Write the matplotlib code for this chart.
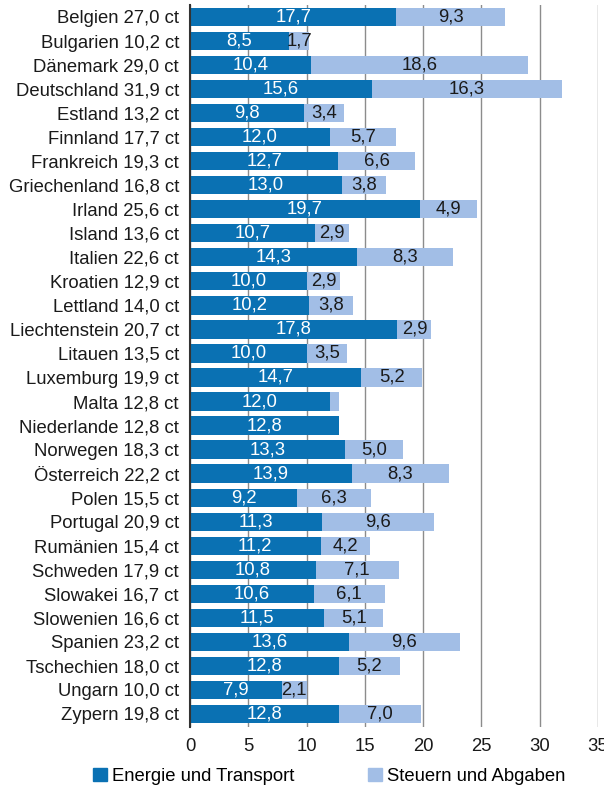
import matplotlib
matplotlib.use("Agg")
import matplotlib.pyplot as plt
from matplotlib.patches import Patch

plt.rcParams['font.family'] = ['Liberation Sans', 'DejaVu Sans']

laender = ["Belgien", "Bulgarien", "Dänemark", "Deutschland", "Estland", "Finnland",
           "Frankreich", "Griechenland", "Irland", "Island", "Italien", "Kroatien",
           "Lettland", "Liechtenstein", "Litauen", "Luxemburg", "Malta", "Niederlande",
           "Norwegen", "Österreich", "Polen", "Portugal", "Rumänien", "Schweden",
           "Slowakei", "Slowenien", "Spanien", "Tschechien", "Ungarn", "Zypern"]
energie = [17.7, 8.5, 10.4, 15.6, 9.8, 12.0, 12.7, 13.0, 19.7, 10.7, 14.3, 10.0,
           10.2, 17.8, 10.0, 14.7, 12.0, 12.8, 13.3, 13.9, 9.2, 11.3, 11.2, 10.8,
           10.6, 11.5, 13.6, 12.8, 7.9, 12.8]
steuern = [9.3, 1.7, 18.6, 16.3, 3.4, 5.7, 6.6, 3.8, 4.9, 2.9, 8.3, 2.9,
           3.8, 2.9, 3.5, 5.2, 0.8, 0.0, 5.0, 8.3, 6.3, 9.6, 4.2, 7.1,
           6.1, 5.1, 9.6, 5.2, 2.1, 7.0]
# Gesamtpreise wie in der Vorlage beschriftet
gesamt = [27.0, 10.2, 29.0, 31.9, 13.2, 17.7, 19.3, 16.8, 25.6, 13.6, 22.6, 12.9,
          14.0, 20.7, 13.5, 19.9, 12.8, 12.8, 18.3, 22.2, 15.5, 20.9, 15.4, 17.9,
          16.7, 16.6, 23.2, 18.0, 10.0, 19.8]
xticks = [0, 5, 10, 15, 20, 25, 30, 35]

dunkel = "#0a71b3"
hell = "#a2bee6"
fs = 13.3


def fmt(v):
    return f"{v:.1f}".replace(".", ",")


fig = plt.figure(figsize=(6.04, 7.88), dpi=100)
ax = fig.add_axes([0.3146, 0.0775, 0.6754, 0.9162])

y = list(range(len(laender)))
ax.barh(y, energie, height=0.76, color=dunkel, zorder=3)
ax.barh(y, steuern, left=energie, height=0.76, color=hell, zorder=3)

for i in y:
    e, s = energie[i], steuern[i]
    ax.text(e / 2, i, fmt(e), ha="center", va="center", color="white",
            fontsize=fs, zorder=4)
    if s >= 1:
        ax.text(e + s / 2, i, fmt(s), ha="center", va="center", color="#1a1a1a",
                fontsize=fs, zorder=4)

ax.set_yticks(y)
ax.set_yticklabels([f"{n} {fmt(t)} ct" for n, t in zip(laender, gesamt)],
                   fontsize=fs, color="#1a1a1a")
ax.set_ylim(len(laender) - 0.46, -0.5)
ax.set_xlim(0, 35)
ax.set_xticks(xticks)
ax.set_xticklabels([str(t) for t in xticks], fontsize=fs, color="#1a1a1a")
ax.tick_params(axis="both", length=0)
ax.tick_params(axis="y", pad=8)
ax.tick_params(axis="x", pad=8)

ax.grid(axis="x", color="#8c8c8c", linewidth=1.0, zorder=1)
for s in ["top", "right", "bottom"]:
    ax.spines[s].set_visible(False)
ax.spines["left"].set_color("#333333")
ax.spines["left"].set_linewidth(1.5)
ax.spines["left"].set_zorder(5)

handles = [Patch(color=dunkel, label="Energie und Transport"),
           Patch(color=hell, label="Steuern und Abgaben")]
fig.legend(handles=handles, loc="lower center", bbox_to_anchor=(0.545, -0.017),
           ncol=2, frameon=False, fontsize=fs, handlelength=0.75, handleheight=0.75,
           handletextpad=0.3, columnspacing=3.95)

fig.savefig("out.png", dpi=100)
